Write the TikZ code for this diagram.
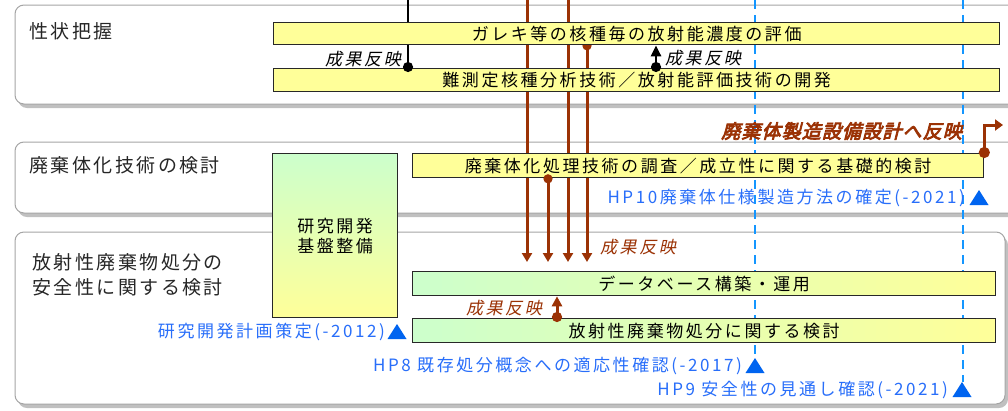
\documentclass[tikz,border=0pt]{standalone}
\usepackage{fontspec}
\usetikzlibrary{arrows.meta,shapes.geometric}
\newfontfamily\jpbar{Noto Sans CJK JP}[LetterSpace=15]
\newfontfamily\jpgrp{Noto Sans CJK JP}[LetterSpace=13]
\newfontfamily\jpit{Noto Sans CJK JP}[LetterSpace=15,FakeSlant=0.22]
\newfontfamily\jpbi{Noto Sans CJK JP}[LetterSpace=6,FakeSlant=0.25,FakeBold=4]
\definecolor{barY}{RGB}{255,255,153}
\definecolor{barG}{RGB}{204,255,204}
\definecolor{boxgray}{RGB}{165,165,165}
\definecolor{shadowgray}{RGB}{192,192,192}
\definecolor{dashblue}{RGB}{20,150,255}
\definecolor{triblue}{RGB}{0,100,240}
\definecolor{txtblue}{RGB}{40,110,250}
\definecolor{brownr}{RGB}{155,50,5}
\definecolor{barline}{RGB}{40,40,40}
\pgfdeclarelayer{bgl}
\pgfdeclarelayer{midl}
\pgfsetlayers{bgl,midl,main}
\tikzset{
  grpshadow/.style={fill=shadowgray, rounded corners=9pt},
  grpbox/.style={draw=boxgray, line width=1pt, fill=white, rounded corners=9pt},
  grplabel/.style={anchor=west, inner sep=0pt, font=\jpgrp\fontsize{19}{25}\selectfont, text=black!85},
  bar/.style={draw=barline, line width=1.3pt, fill=barY, anchor=north west, inner sep=0pt, font=\jpbar\fontsize{17}{20}\selectfont},
  gbar/.style={bar, left color=barG, right color=barY},
  blk/.style={draw=black, line width=2.5pt},
  barrow/.style={draw=brownr, line width=3pt},
  btip/.style={-{Triangle[width=10pt,length=9pt]}},
  bluedash/.style={draw=dashblue, line width=2.8pt, dash pattern=on 9pt off 6pt},
  bluetxt/.style={anchor=base east, inner sep=0pt, text=txtblue, font=\jpbar\fontsize{17}{20}\selectfont},
  itlabel/.style={inner sep=0pt, font=\jpit\fontsize{17}{20}\selectfont},
  mtri/.pic={\fill[triblue] (-9.5,0) -- (9.5,0) -- (0,-15) -- cycle;}
}
\begin{document}
\begin{tikzpicture}[x=1pt,y=-1pt]
\useasboundingbox (0,0) rectangle (1008,410);
% group boxes
\begin{pgfonlayer}{bgl}
\fill[white] (0,0) rectangle (1008,410);
\fill[grpshadow] (18,9) rectangle (1030,108);
\draw[grpbox] (15,5) rectangle (1030,104);
\fill[grpshadow] (18,146) rectangle (1030,217);
\draw[grpbox] (15,142) rectangle (1030,213);
\fill[grpshadow] (18,236) rectangle (1008,408);
\draw[grpbox] (15,232) rectangle (1005,404);
\end{pgfonlayer}
% group labels
\node[grplabel] (g1) at (29,31) {性状把握};
\node[grplabel] (g2) at (29,165) {廃棄体化技術の検討};
\node[grplabel, align=left] (g3) at (32,275) {放射性廃棄物処分の\\安全性に関する検討};
% coordinates
\coordinate (m1) at (397,339);
\coordinate (m10) at (979,205);
\coordinate (m8) at (755,373);
\coordinate (m9) at (962,397);
\coordinate (d8) at (755,0);
\coordinate (d9) at (963,0);
\coordinate (r1) at (527,0);
\coordinate (r2) at (548,0);
\coordinate (r3) at (568,0);
\coordinate (r4) at (587,0);
\coordinate (r5) at (557,0);
\coordinate (k1) at (408,0);
\coordinate (k2) at (656,0);
\coordinate (hk) at (1003,125);
% bars
\node[bar, minimum width=726pt, minimum height=22pt] (barA) at (273,22) {ガレキ等の核種毎の放射能濃度の評価};
\node[bar, minimum width=726pt, minimum height=23pt] (barB) at (273,68) {難測定核種分析技術／放射能評価技術の開発};
\node[bar, minimum width=571pt, minimum height=24pt] (barC) at (412,153) {廃棄体化処理技術の調査／成立性に関する基礎的検討};
\node[gbar, minimum width=583pt, minimum height=24pt] (barD) at (412,271) {データベース構築・運用};
\node[gbar, minimum width=583pt, minimum height=24pt] (barE) at (412,318) {放射性廃棄物処分に関する検討};
\node[bar, top color=barG, bottom color=barY, minimum width=125pt, minimum height=164pt, align=center] (barG) at (272,153) {研究開発\\基盤整備};
% lines behind bars
\begin{pgfonlayer}{midl}
\draw[bluedash] (d8) -- ([yshift=15pt]m8);
\draw[bluedash] (d9) -- ([yshift=15pt]m9 -| d9);
\draw[blk] (k1) -- (k1 |- barA.north);
\draw[barrow, btip, shorten >=9pt] (r1) -- (r1 |- barD.north);
\draw[barrow, btip, shorten >=9pt] (r3) -- (r3 |- barD.north);
\draw[barrow, {Circle[length=9pt]}-{Triangle[width=10pt,length=9pt]}, shorten <=-4pt, shorten >=9pt] (r4 |- barA.south) -- (r4 |- barD.north);
\end{pgfonlayer}
% connectors on top
\draw[blk, -{Circle[length=10pt]}, shorten >=-4pt] (k1 |- barA.south) -- (k1 |- barB.north);
\draw[blk, {Circle[length=10pt]}-{Triangle[width=10pt,length=11pt]}, shorten <=-4pt] (k2 |- barB.north) -- (k2 |- barA.south);
\draw[barrow, {Circle[length=9pt]}-{Triangle[width=10pt,length=9pt]}, shorten <=-4pt, shorten >=9pt] (r2 |- barC.south) -- (r2 |- barD.north);
\draw[barrow, {Circle[length=10pt]}-{Triangle[width=10pt,length=10pt]}, shorten <=-4pt] (r5 |- barE.north) -- (r5 |- barD.south);
\draw[barrow, {Circle[length=11pt]}-{Triangle[width=11pt,length=8pt]}, shorten <=-5pt] (barC.north east) -- (barC.north east |- hk) -- (hk);
% labels
\node[itlabel, anchor=east] (l1) at (401,59) {成果反映};
\node[itlabel, anchor=west] (l2) at (665,58) {成果反映};
\node[itlabel, anchor=west, text=brownr] (l3) at (600,247) {成果反映};
\node[itlabel, anchor=east, text=brownr] (l4) at (542,308) {成果反映};
\node[anchor=east, inner sep=0pt, text=brownr, font=\jpbi\fontsize{19}{21}\selectfont] (refl) at (962,131) {廃棄体製造設備設計へ反映};
% milestones
\pic at (m1) {mtri};
\pic at (m10) {mtri};
\pic at (m8) {mtri};
\pic at (m9) {mtri};
\node[bluetxt] (t1) at ([xshift=-12pt,yshift=2pt]m1) {研究開発計画策定(-2012)};
\node[bluetxt] (t10) at ([xshift=-14pt,yshift=2pt]m10) {HP10廃棄体仕様製造方法の確定(-2021)};
\node[bluetxt] (t8) at ([xshift=-13pt,yshift=2pt]m8) {HP8 既存処分概念への適応性確認(-2017)};
\node[bluetxt] (t9) at ([xshift=-14pt,yshift=2pt]m9) {HP9 安全性の見通し確認(-2021)};
\end{tikzpicture}
\end{document}
